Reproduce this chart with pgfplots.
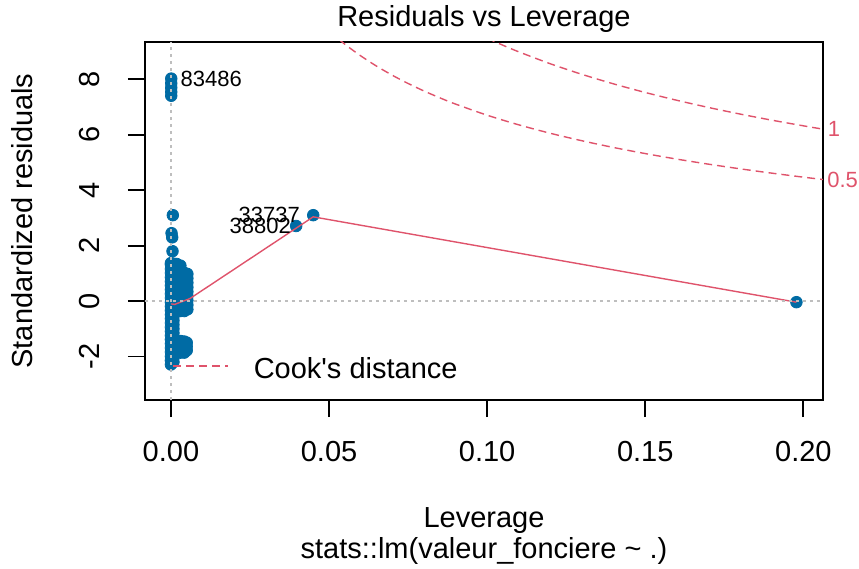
\documentclass[border=0pt]{standalone}
\usepackage{fontspec}
\setmainfont{Liberation Sans}
\usepackage{pgfplots}
\usepackage{pgfplotstable}
\pgfplotsset{compat=1.18}

\definecolor{ptblue}{RGB}{0,107,164}
\definecolor{cookred}{HTML}{DF536B}
\definecolor{refgray}{HTML}{BEBEBE}

% leverage and standardized residual of each observation
\pgfplotstableread{
lev res
0.0000 -2.29
0.0000 -2.14
0.0000 -1.99
0.0000 -1.84
0.0000 -1.69
0.0000 -1.54
0.0000 -1.39
0.0000 -1.24
0.0000 -1.09
0.0000 -0.94
0.0000 -0.79
0.0000 -0.64
0.0000 -0.49
0.0000 -0.34
0.0000 -0.19
0.0000 -0.04
0.0000 0.11
0.0000 0.26
0.0000 0.41
0.0000 0.56
0.0000 0.71
0.0000 0.86
0.0000 1.01
0.0000 1.16
0.0000 1.31
0.0000 1.37
0.0008 -2.20
0.0008 -2.05
0.0008 -1.90
0.0008 -1.75
0.0008 -1.60
0.0008 -1.45
0.0008 -1.30
0.0008 -1.15
0.0008 -1.00
0.0008 -0.85
0.0008 -0.70
0.0008 -0.55
0.0008 -0.40
0.0008 -0.25
0.0008 -0.10
0.0008 0.05
0.0008 0.20
0.0008 0.35
0.0008 0.50
0.0008 0.65
0.0008 0.80
0.0008 0.95
0.0008 1.10
0.0008 1.25
0.0008 1.35
0.0018 -0.36
0.0018 -0.20
0.0018 -0.04
0.0018 0.12
0.0018 0.28
0.0018 0.44
0.0018 0.60
0.0018 0.76
0.0018 0.92
0.0018 1.05
0.0018 1.22
0.0018 1.34
0.0030 -0.36
0.0030 -0.20
0.0030 -0.04
0.0030 0.12
0.0030 0.28
0.0030 0.44
0.0030 0.60
0.0030 0.76
0.0030 0.92
0.0030 1.02
0.0030 1.28
0.0042 -0.36
0.0042 -0.20
0.0042 -0.04
0.0042 0.12
0.0042 0.28
0.0042 0.44
0.0042 0.60
0.0042 0.76
0.0042 0.92
0.0042 1.02
0.0052 -0.30
0.0052 -0.14
0.0052 0.02
0.0052 0.18
0.0052 0.34
0.0052 0.50
0.0052 0.66
0.0052 0.82
0.0052 0.98
0.0018 -1.44
0.0018 -1.58
0.0018 -1.72
0.0018 -1.86
0.0030 -1.44
0.0030 -1.58
0.0030 -1.72
0.0030 -1.86
0.0042 -1.46
0.0042 -1.60
0.0042 -1.74
0.0042 -1.86
0.0050 -1.50
0.0050 -1.64
0.0050 -1.78
0.0005 1.80
0.0004 2.30
0.0002 2.45
0.0006 3.10
0.0001 7.41
0.0001 7.55
0.0001 7.70
0.0001 7.86
0.0001 8.03
0.0396 2.71
0.0450 3.10
0.1978 -0.04
}\resid

% smoothed trend of the residuals
\pgfplotstableread{
lev res
0.0001 -0.10
0.0012 -0.12
0.0060 0.09
0.0450 3.04
0.1978 -0.04
}\trend

% Cook's distance = 1 contour (p = 10)
\pgfplotstableread{
lev res
0.100 9.487
0.105 9.232
0.110 8.995
0.120 8.563
0.130 8.181
0.140 7.838
0.150 7.528
0.160 7.246
0.170 6.987
0.180 6.749
0.190 6.529
0.200 6.325
0.2062 6.205
}\cookone

% Cook's distance = 0.5 contour
\pgfplotstableread{
lev res
0.050 9.747
0.055 9.269
0.060 8.851
0.065 8.481
0.070 8.150
0.075 7.853
0.080 7.583
0.085 7.337
0.090 7.110
0.100 6.708
0.110 6.360
0.120 6.055
0.130 5.785
0.140 5.542
0.150 5.323
0.160 5.123
0.170 4.941
0.180 4.773
0.190 4.617
0.200 4.472
0.2062 4.387
}\cookhalf

\begin{document}
\begin{tikzpicture}[font=\fontsize{14.5}{17}\selectfont]
\useasboundingbox (-72.5pt,-84.5pt) rectangle (357pt,200pt);
\begin{axis}[
  at={(0pt,0pt)}, anchor=south west,
  scale only axis, width=339pt, height=179pt,
  xmin=-0.0082, xmax=0.2062, ymin=-3.57, ymax=9.35,
  clip mode=individual,
  axis line style={line width=0.9pt, black},
  tick style={line width=0.9pt, black},
  tick align=outside, major tick length=8.5pt,
  xtick pos=bottom, ytick pos=left,
  xtick={0,0.05,0.1,0.15,0.2},
  xticklabels={0.00,0.05,0.10,0.15,0.20},
  ytick={-2,0,2,4,6,8},
  yticklabels={-2,0,2,4,6,8},
  xticklabel style={anchor=base, yshift=-22pt},
  yticklabel style={xshift=-14pt, rotate=90, anchor=base},
  legend style={at={(axis description cs:0.0398,0.084)}, anchor=west,
    draw=none, fill=none, inner sep=0pt, nodes={inner sep=0pt}},
  legend image code/.code={\draw[#1] (0pt,2pt) -- (27.5pt,2pt); \path (40pt,0pt);},
]
\addplot[only marks, mark=*, mark size=2.9pt, color=ptblue, forget plot]
  table[x=lev, y=res] {\resid};
\addplot[cookred, line width=0.7pt, forget plot] table[x=lev, y=res] {\trend};
\addplot[refgray, line width=0.8pt, dash pattern=on 1.5pt off 2pt, forget plot]
  coordinates {(-0.0082,0) (0.2062,0)};
\addplot[refgray, line width=0.8pt, dash pattern=on 1.5pt off 2pt, forget plot]
  coordinates {(0,-3.57) (0,9.35)};
\addplot[cookred, line width=0.7pt, dash pattern=on 4pt off 2.5pt, smooth]
  table[x=lev, y=res] {\cookhalf};
\addlegendentry{Cook\textquotesingle s distance}
\addplot[cookred, line width=0.7pt, dash pattern=on 4pt off 2.5pt, smooth, forget plot]
  table[x=lev, y=res] {\cookone};

% contour levels on the right margin
\node[anchor=west, inner sep=0pt, text=cookred, font=\fontsize{11}{13}\selectfont]
  at (axis cs:0.2062,6.205) [xshift=2.3pt] {1};
\node[anchor=west, inner sep=0pt, text=cookred, font=\fontsize{11}{13}\selectfont]
  at (axis cs:0.2062,4.387) [xshift=2pt] {0.5};

% observation ids
\node[anchor=west, inner sep=0pt, font=\fontsize{11}{13}\selectfont]
  at (axis cs:0.0001,8.03) [xshift=4.5pt] {83486};
\node[anchor=east, inner sep=0pt, font=\fontsize{11}{13}\selectfont]
  at (axis cs:0.0450,3.10) [xshift=-6.5pt] {33737};
\node[anchor=east, inner sep=0pt, font=\fontsize{11}{13}\selectfont]
  at (axis cs:0.0396,2.71) [xshift=-2.5pt] {38802};

% titles
\node[anchor=base] at (rel axis cs:0.5,1) [yshift=7.5pt] {Residuals vs Leverage};
\node[anchor=base] at (rel axis cs:0.5,0) [yshift=-63.5pt] {Leverage};
\node[anchor=base] at (rel axis cs:0.5,0) [yshift=-79pt] {stats::lm(valeur\_fonciere \textasciitilde{} .)};
\node[xshift=-56pt, anchor=base, rotate=90] at (rel axis cs:0,0.5) {Standardized residuals};
\end{axis}
\end{tikzpicture}
\end{document}
